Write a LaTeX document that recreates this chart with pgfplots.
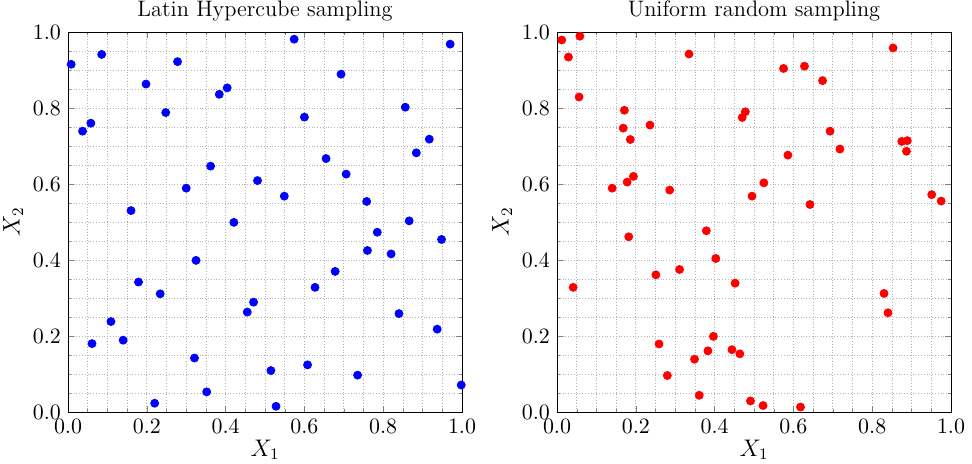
\documentclass[border=0pt]{standalone}
\usepackage{pgfplots}
\pgfplotsset{compat=1.18}
\pgfplotsset{
  lhsstyle/.style={
    scale only axis, width=197pt, height=190pt,
    xmin=0, xmax=1, ymin=0, ymax=1,
    xtick={0,0.2,...,1.0}, ytick={0,0.2,...,1.0},
    minor tick num=3,
    grid=both,
    major grid style={densely dotted, gray!60, line width=0.4pt},
    minor grid style={densely dotted, gray!60, line width=0.4pt},
    tick align=inside,
    major tick length=3pt, minor tick length=1.5pt,
    xtick pos=both, ytick pos=both,
    tick label style={font=\fontsize{10.5}{12}\selectfont},
    xticklabel style={/pgf/number format/fixed, /pgf/number format/fixed zerofill, /pgf/number format/precision=1},
    yticklabel style={/pgf/number format/fixed, /pgf/number format/fixed zerofill, /pgf/number format/precision=1},
    xlabel={$X_1$}, ylabel={$X_2$},
    label style={font=\large},
    xlabel style={yshift=3.5pt},
    ylabel style={yshift=-2pt},
    title style={font=\fontsize{11.2}{13}\selectfont, yshift=-4pt},
    clip=false,
  }
}
\begin{document}
\begin{tikzpicture}
\path[use as bounding box] (-34pt,-26pt) rectangle (452pt,206pt);
\begin{axis}[lhsstyle, title={Latin Hypercube sampling}]
\addplot[only marks, mark=*, mark size=2pt, color=blue, mark options={draw=blue, fill=blue}] coordinates {
(0.008,0.915) (0.0855,0.941) (0.278,0.922) (0.198,0.863) (0.384,0.836)
(0.404,0.853) (0.248,0.788) (0.037,0.739) (0.058,0.760) (0.362,0.647)
(0.481,0.609) (0.300,0.589) (0.160,0.530) (0.421,0.499)
(0.574,0.981) (0.970,0.968) (0.693,0.889) (0.856,0.802) (0.600,0.776)
(0.917,0.718) (0.884,0.682) (0.655,0.667) (0.706,0.626) (0.549,0.568)
(0.758,0.554) (0.866,0.503)
(0.325,0.399) (0.179,0.342) (0.234,0.311) (0.471,0.289) (0.455,0.263)
(0.109,0.238) (0.061,0.180) (0.140,0.189) (0.321,0.142) (0.352,0.053)
(0.220,0.023)
(0.785,0.473) (0.948,0.454) (0.760,0.425) (0.820,0.416) (0.678,0.370)
(0.627,0.328) (0.840,0.259) (0.937,0.218) (0.515,0.109) (0.608,0.124)
(0.735,0.097) (0.998,0.071) (0.528,0.015)
};
\end{axis}
\begin{axis}[lhsstyle, xshift=244.5pt, title={Uniform random sampling}]
\addplot[only marks, mark=*, mark size=2pt, color=red, mark options={draw=red, fill=red}] coordinates {
(0.012,0.979) (0.058,0.989) (0.029,0.934) (0.335,0.942) (0.056,0.829)
(0.171,0.794) (0.168,0.747) (0.236,0.755) (0.186,0.717) (0.478,0.790)
(0.470,0.775) (0.140,0.589) (0.178,0.605) (0.194,0.620) (0.286,0.584)
(0.495,0.568)
(0.853,0.958) (0.575,0.904) (0.628,0.910) (0.674,0.872) (0.693,0.739)
(0.875,0.712) (0.889,0.714) (0.887,0.686) (0.718,0.692) (0.586,0.676)
(0.525,0.603) (0.642,0.546) (0.951,0.572) (0.975,0.555)
(0.041,0.328) (0.182,0.461) (0.379,0.477) (0.403,0.404) (0.311,0.375)
(0.251,0.361) (0.452,0.339) (0.397,0.199) (0.259,0.179) (0.383,0.161)
(0.444,0.164) (0.464,0.153) (0.349,0.139) (0.280,0.096) (0.361,0.044)
(0.491,0.029)
(0.830,0.312) (0.840,0.261) (0.523,0.017) (0.618,0.013)
};
\end{axis}
\end{tikzpicture}
\end{document}
